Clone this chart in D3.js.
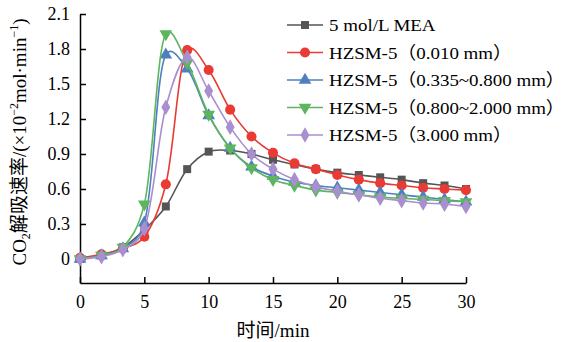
<!DOCTYPE html>
<html>
<head>
<meta charset="utf-8">
<script src="https://cdn.jsdelivr.net/npm/d3@7"></script>
<style>
  body { margin: 0; background: #fff; }
  text { font-family: "Liberation Serif", "Times New Roman", serif; }
  .cjk { font-family: "Liberation Serif", "Noto Sans CJK SC", serif; }
</style>
</head>
<body>
<script>
var width = 569, height = 342;

// time points (min)
var times = [0, 1.67, 3.33, 5, 6.67, 8.33, 10, 11.67, 13.33, 15, 16.67, 18.33, 20, 21.67, 23.33, 25, 26.67, 28.33, 30];

var seriesNames = ["5 mol/L MEA", "HZSM-5（0.010 mm）", "HZSM-5（0.335~0.800 mm）", "HZSM-5（0.800~2.000 mm）", "HZSM-5（3.000 mm）"];
var seriesColors = ["#555555", "#ea3a34", "#4f7fc0", "#5db55d", "#a98fd0"];
var seriesSymbols = ["square", "circle", "triangle", "triangleDown", "diamond"];

var mea     = [0.00, 0.03, 0.10, 0.25, 0.45, 0.77, 0.92, 0.93, 0.90, 0.85, 0.81, 0.77, 0.74, 0.72, 0.70, 0.68, 0.65, 0.63, 0.60];
var hz010   = [0.01, 0.04, 0.09, 0.19, 0.64, 1.79, 1.62, 1.28, 1.05, 0.91, 0.82, 0.77, 0.72, 0.68, 0.65, 0.63, 0.61, 0.60, 0.59];
var hz335   = [0.00, 0.03, 0.09, 0.31, 1.75, 1.63, 1.23, 0.95, 0.79, 0.71, 0.66, 0.63, 0.61, 0.59, 0.57, 0.55, 0.53, 0.51, 0.49];
var hz800   = [0.00, 0.03, 0.10, 0.47, 1.93, 1.68, 1.24, 0.95, 0.78, 0.68, 0.63, 0.59, 0.57, 0.55, 0.53, 0.52, 0.51, 0.50, 0.49];
var hz3000  = [0.00, 0.02, 0.08, 0.26, 1.30, 1.73, 1.44, 1.13, 0.90, 0.77, 0.68, 0.62, 0.58, 0.55, 0.52, 0.50, 0.48, 0.47, 0.45];

var allSeries = [mea, hz010, hz335, hz800, hz3000];

var xTicks = [0, 5, 10, 15, 20, 25, 30];
var yTicks = [0, 0.3, 0.6, 0.9, 1.2, 1.5, 1.8, 2.1];

var x = d3.scaleLinear().domain([0, 30]).range([80, 466]);
var y = d3.scaleLinear().domain([-0.206, 2.1]).range([283, 14]);

var svg = d3.select("body").append("svg")
    .attr("width", width)
    .attr("height", height);

// axes
var xAxis = svg.append("g")
    .attr("transform", "translate(0," + y(-0.206) + ")")
    .call(d3.axisBottom(x).tickValues(xTicks).tickSizeInner(-6).tickSizeOuter(0).tickPadding(12));
var yAxis = svg.append("g")
    .attr("transform", "translate(" + x(0) + ",0)")
    .call(d3.axisLeft(y).tickValues(yTicks).tickSizeInner(-6).tickSizeOuter(0).tickPadding(10)
      .tickFormat(function(d) { return d === 0 ? "0" : d3.format(".1f")(d); }));

[xAxis, yAxis].forEach(function(a) {
  a.select(".domain").attr("stroke", "#000").attr("stroke-width", 1.5);
  a.selectAll(".tick line").attr("stroke", "#000").attr("stroke-width", 1.5);
  a.selectAll(".tick text")
    .attr("font-family", "Liberation Serif, serif")
    .attr("font-size", 18)
    .attr("fill", "#000");
});

var line = d3.line()
    .curve(d3.curveCatmullRom.alpha(0.25))
    .x(function(d, i) { return x(times[i]); })
    .y(function(d) { return y(d); });

function symbolType(name) {
  if (name === "square") return d3.symbolSquare;
  if (name === "circle") return d3.symbolCircle;
  if (name === "diamond") return d3.symbolDiamond;
  return d3.symbolTriangle;
}
function symbolSize(name) {
  if (name === "square") return 64;
  if (name === "circle") return 80;
  if (name === "diamond") return 70;
  return 70;
}
function drawMarker(g, name, color, cx, cy) {
  g.append("path")
    .attr("d", d3.symbol().type(symbolType(name)).size(symbolSize(name))())
    .attr("fill", color)
    .attr("transform", "translate(" + cx + "," + cy + ")" + (name === "triangleDown" ? " rotate(180)" : ""));
}

allSeries.forEach(function(values, s) {
  var g = svg.append("g");
  g.append("path")
    .datum(values)
    .attr("fill", "none")
    .attr("stroke", seriesColors[s])
    .attr("stroke-width", 1.6)
    .attr("d", line);
  values.forEach(function(v, i) {
    drawMarker(g, seriesSymbols[s], seriesColors[s], x(times[i]), y(v));
  });
});

// legend
var legend = svg.append("g");
var legendTexts = [];
seriesNames.forEach(function(name, i) {
  var ly = 25 + i * 27.5;
  legend.append("line")
    .attr("x1", 287).attr("x2", 323)
    .attr("y1", ly).attr("y2", ly)
    .attr("stroke", seriesColors[i])
    .attr("stroke-width", 1.6);
  drawMarker(legend, seriesSymbols[i], seriesColors[i], 305, ly);
  legendTexts.push(legend.append("text")
    .attr("class", "cjk")
    .attr("font-size", 17.5)
    .attr("data-y", ly + 6)
    .text(name));
});
// widen the legend text like the reference, but keep it inside the page
var maxW = d3.max(legendTexts, function(t) { return t.node().getBBox().width; });
var sx = Math.min(1.12, (width - 4 - 329) / maxW);
legendTexts.forEach(function(t) {
  t.attr("transform", "translate(329," + t.attr("data-y") + ") scale(" + sx + ",1)");
});

// axis titles
svg.append("text")
  .attr("class", "cjk")
  .attr("x", 273)
  .attr("y", 337)
  .attr("text-anchor", "middle")
  .attr("font-size", 19)
  .text("时间/min");

var yl = svg.append("text")
  .attr("class", "cjk")
  .attr("transform", "translate(26,142) rotate(-90)")
  .attr("text-anchor", "middle")
  .attr("font-size", 19);
yl.append("tspan").text("CO");
yl.append("tspan").attr("font-size", 12).attr("dy", 4).text("2");
yl.append("tspan").attr("dy", -4).text("解吸速率/(×10");
yl.append("tspan").attr("font-size", 12).attr("dy", -8).text("−2");
yl.append("tspan").attr("dy", 8).text("mol·min");
yl.append("tspan").attr("font-size", 12).attr("dy", -8).text("−1");
yl.append("tspan").attr("dy", 8).text(")");
</script>
</body>
</html>
